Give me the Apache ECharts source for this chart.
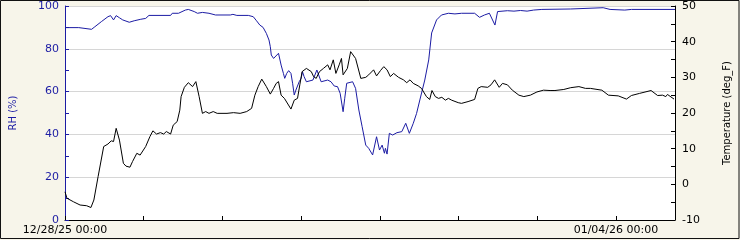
<!DOCTYPE html>
<html>
<head>
<meta charset="utf-8">
<script src="https://cdn.jsdelivr.net/npm/echarts@6/dist/echarts.min.js"></script>
<style>
html,body{margin:0;padding:0;background:#f7f5ea;}
#chart{width:740px;height:240px;}
</style>
</head>
<body>
<div id="chart"></div>
<script>
// Hours since 12/28/25 00:00
const rhHours = [0,4.2,4.7,8.1,9.1,11.1,13.1,13.9,14.8,15.6,16.6,17.6,19.6,21.1,23.1,24.6,25.6,32.2,32.7,34.6,36.7,37.6,
  39.4,40.4,41.9,43.9,45.9,50.4,51.2,52.4,55.9,57.4,58.4,59.4,60.4,61.4,62.2,62.6,62.9,63.6,64.2,65.1,65.9,66.6,67.0,67.6,68.2,68.9,69.4,69.9,70.4,71.4,72.0,72.4,72.9,73.6,
  75.6,76.8,78.1,80.1,81.1,82.1,83.1,83.9,84.8,85.3,85.9,87.7,88.6,89.6,90.6,91.7,92.6,93.2,93.8,95.0,95.9,96.7,97.4,97.7,98.2,98.9,99.9,101.2,102.7,103.9,105.0,106.2,107.2,108.2,109.7,110.9,111.8,113.3,114.8,
  116.9,118.9,120.9,124.9,126.4,127.9,129.4,131.1,131.9,134.9,136.9,138.9,140.9,142.9,145.4,154.2,154.7,164.1,166.2,170.7,172.7,186];
const rhValues = [89.9,89.9,89.1,89.1,90.3,92.7,95.0,95.5,93.5,95.5,94.5,93.5,92.4,93.1,93.8,94.2,95.6,95.6,96.6,96.6,98.1,98.4,
  97.4,96.6,97.0,96.6,95.8,95.8,96.1,95.6,95.6,95.0,93.1,91.1,90.0,87.2,84.1,81.0,77.1,75.5,76.0,77.9,72.4,68.5,66.2,68.5,69.8,68.5,63.9,58.4,60.7,64.6,66.2,69.3,67.0,64.6,
  65.4,70.1,64.6,65.4,64.6,62.6,62.3,59.2,50.6,56.9,63.9,64.6,61.5,51.4,43.6,35.0,33.5,34.3,30.4,38.9,32.7,35.0,31.2,33.5,30.8,40.5,39.7,40.8,41.3,45.2,40.5,45.2,49.8,56.1,65.4,74.8,87.4,93.5,95.8,
  96.6,96.3,96.6,96.6,94.7,95.8,96.6,91.1,97.4,97.8,97.6,97.9,97.6,98.1,98.4,98.6,99.2,99.2,98.4,98.1,98.4,98.4];

const tempHours = [0,0.6,2.6,4.6,6.6,7.9,8.8,10.1,11.8,13.1,14.1,14.8,15.6,16.6,17.8,18.6,19.8,20.6,21.9,22.9,24.6,25.9,26.8,27.9,29.1,30.1,30.9,32.2,33.0,34.2,35.0,35.4,36.4,37.6,
  38.2,38.9,39.9,40.9,41.9,42.9,43.9,45.2,46.4,49.4,51.4,53.4,55.4,56.9,57.9,58.9,60.0,61.4,62.6,63.6,64.4,65.1,65.9,66.9,68.9,69.9,70.9,71.6,72.3,73.6,74.0,75.1,75.8,76.6,77.1,77.6,78.8,
  80.1,80.8,81.8,82.6,83.6,84.3,84.8,86.1,87.1,87.7,88.6,90.2,91.7,92.6,94.1,95.0,96.2,97.2,98.2,99.2,100.2,101.7,103.2,104.2,105.2,106.2,107.7,108.7,110.2,111.2,111.9,112.9,113.9,114.9,116.0,116.9,117.9,
  119.9,120.9,122.9,124.9,125.4,125.9,126.9,128.9,129.9,131.0,132.4,133.4,134.9,136.4,138.4,139.9,141.9,143.9,145.9,147.9,149.4,152.1,154.2,156.7,158.7,160.2,163.7,165.7,168.7,171.2,172.7,175.2,178.7,180.7,182.2,183.2,183.7,185.7];
const tempValues = [-2.1,-3.9,-4.9,-5.8,-6.0,-6.5,-4.4,2.2,10.6,11.3,12.2,12.0,15.7,12.4,5.9,5.1,4.8,6.4,8.7,8.2,10.6,13.4,15.0,14.1,14.5,14.1,14.8,14.1,16.6,17.6,20.8,24.6,27.2,28.5,
  28.8,27.4,28.8,24.6,19.9,20.4,19.9,20.4,19.9,19.9,20.1,19.9,20.4,21.3,25.0,27.4,29.5,27.4,25.3,26.9,28.3,28.8,25.0,24.1,21.1,23.6,24.1,27.9,31.6,32.5,32.5,31.6,30.2,29.7,30.7,31.6,32.5,
  33.5,32.1,34.9,31.1,33.5,35.3,30.7,32.5,37.2,37.7,35.3,29.7,30.0,30.7,32.1,30.4,31.9,33.0,32.1,30.2,31.1,30.0,29.3,28.5,29.3,28.3,27.6,26.9,24.6,23.8,26.3,24.6,24.1,24.4,23.6,24.1,23.6,
  22.9,22.7,23.2,23.8,24.3,26.9,27.4,27.2,27.9,29.3,27.2,28.3,27.9,26.4,25.0,24.6,25.0,25.9,26.4,26.3,26.3,26.6,27.1,27.4,26.9,26.9,26.4,25.0,24.8,23.9,24.9,25.5,26.3,24.9,25.0,24.6,25.2,23.9];

const xLabelHours = [0, 168];
const xLabelTexts = ['12/28/25 00:00', '01/04/26 00:00'];

const blue = '#1c1ca4';
const font = 'DejaVu Sans';

const chart = echarts.init(document.getElementById('chart'), null, {renderer: 'canvas'});
chart.setOption({
  animation: false,
  backgroundColor: '#f7f5ea',
  graphic: [{
    type: 'rect', silent: true, z: 100,
    shape: {x: 0.5, y: 0.5, width: 738.5, height: 238},
    style: {fill: 'none', stroke: '#111', lineWidth: 1}
  }],
  grid: {left: 61, right: 60, top: 6, bottom: 20, show: true, backgroundColor: '#ffffff', borderWidth: 0},
  xAxis: {
    type: 'value', min: 0, max: 186, interval: 24,
    axisLine: {lineStyle: {color: '#000', width: 1}},
    axisTick: {inside: true, length: 4, lineStyle: {color: '#000'}},
    splitLine: {show: false},
    axisLabel: {
      showMaxLabel: false, margin: 5, color: '#000', fontFamily: font, fontSize: 11,
      formatter: function (v) { const i = xLabelHours.indexOf(v); return i >= 0 ? xLabelTexts[i] : ''; }
    }
  },
  yAxis: [{
    type: 'value', min: 0, max: 100, interval: 20, position: 'left',
    name: 'RH (%)', nameLocation: 'middle', nameGap: 47, nameRotate: 90,
    nameTextStyle: {color: blue, fontFamily: font, fontSize: 10},
    axisLine: {show: true, lineStyle: {color: blue, width: 1}},
    axisTick: {show: true, inside: true, length: 4, lineStyle: {color: blue}},
    minorTick: {show: true, splitNumber: 2, length: 4, lineStyle: {color: blue}},
    axisLabel: {color: blue, fontFamily: font, fontSize: 11, margin: 6},
    splitLine: {show: true, lineStyle: {color: '#d6d6d6', width: 1}}
  }, {
    type: 'value', min: -10, max: 50, interval: 10, position: 'right',
    name: 'Temperature (deg_F)', nameLocation: 'middle', nameGap: 47, nameRotate: 90,
    nameTextStyle: {color: '#000', fontFamily: font, fontSize: 10},
    axisLine: {show: true, lineStyle: {color: '#000', width: 1}},
    axisTick: {show: true, inside: true, length: 4, lineStyle: {color: '#000'}},
    minorTick: {show: true, splitNumber: 2, length: 4, lineStyle: {color: '#000'}},
    axisLabel: {color: '#000', fontFamily: font, fontSize: 11, margin: 7},
    splitLine: {show: false}
  }],
  series: [{
    type: 'line', yAxisIndex: 0, showSymbol: false, silent: true,
    lineStyle: {color: blue, width: 1}, itemStyle: {color: blue},
    data: rhHours.map((h, i) => [h, rhValues[i]])
  }, {
    type: 'line', yAxisIndex: 1, showSymbol: false, silent: true,
    lineStyle: {color: '#000', width: 1}, itemStyle: {color: '#000'},
    data: tempHours.map((h, i) => [h, tempValues[i]])
  }]
});
</script>
</body>
</html>
